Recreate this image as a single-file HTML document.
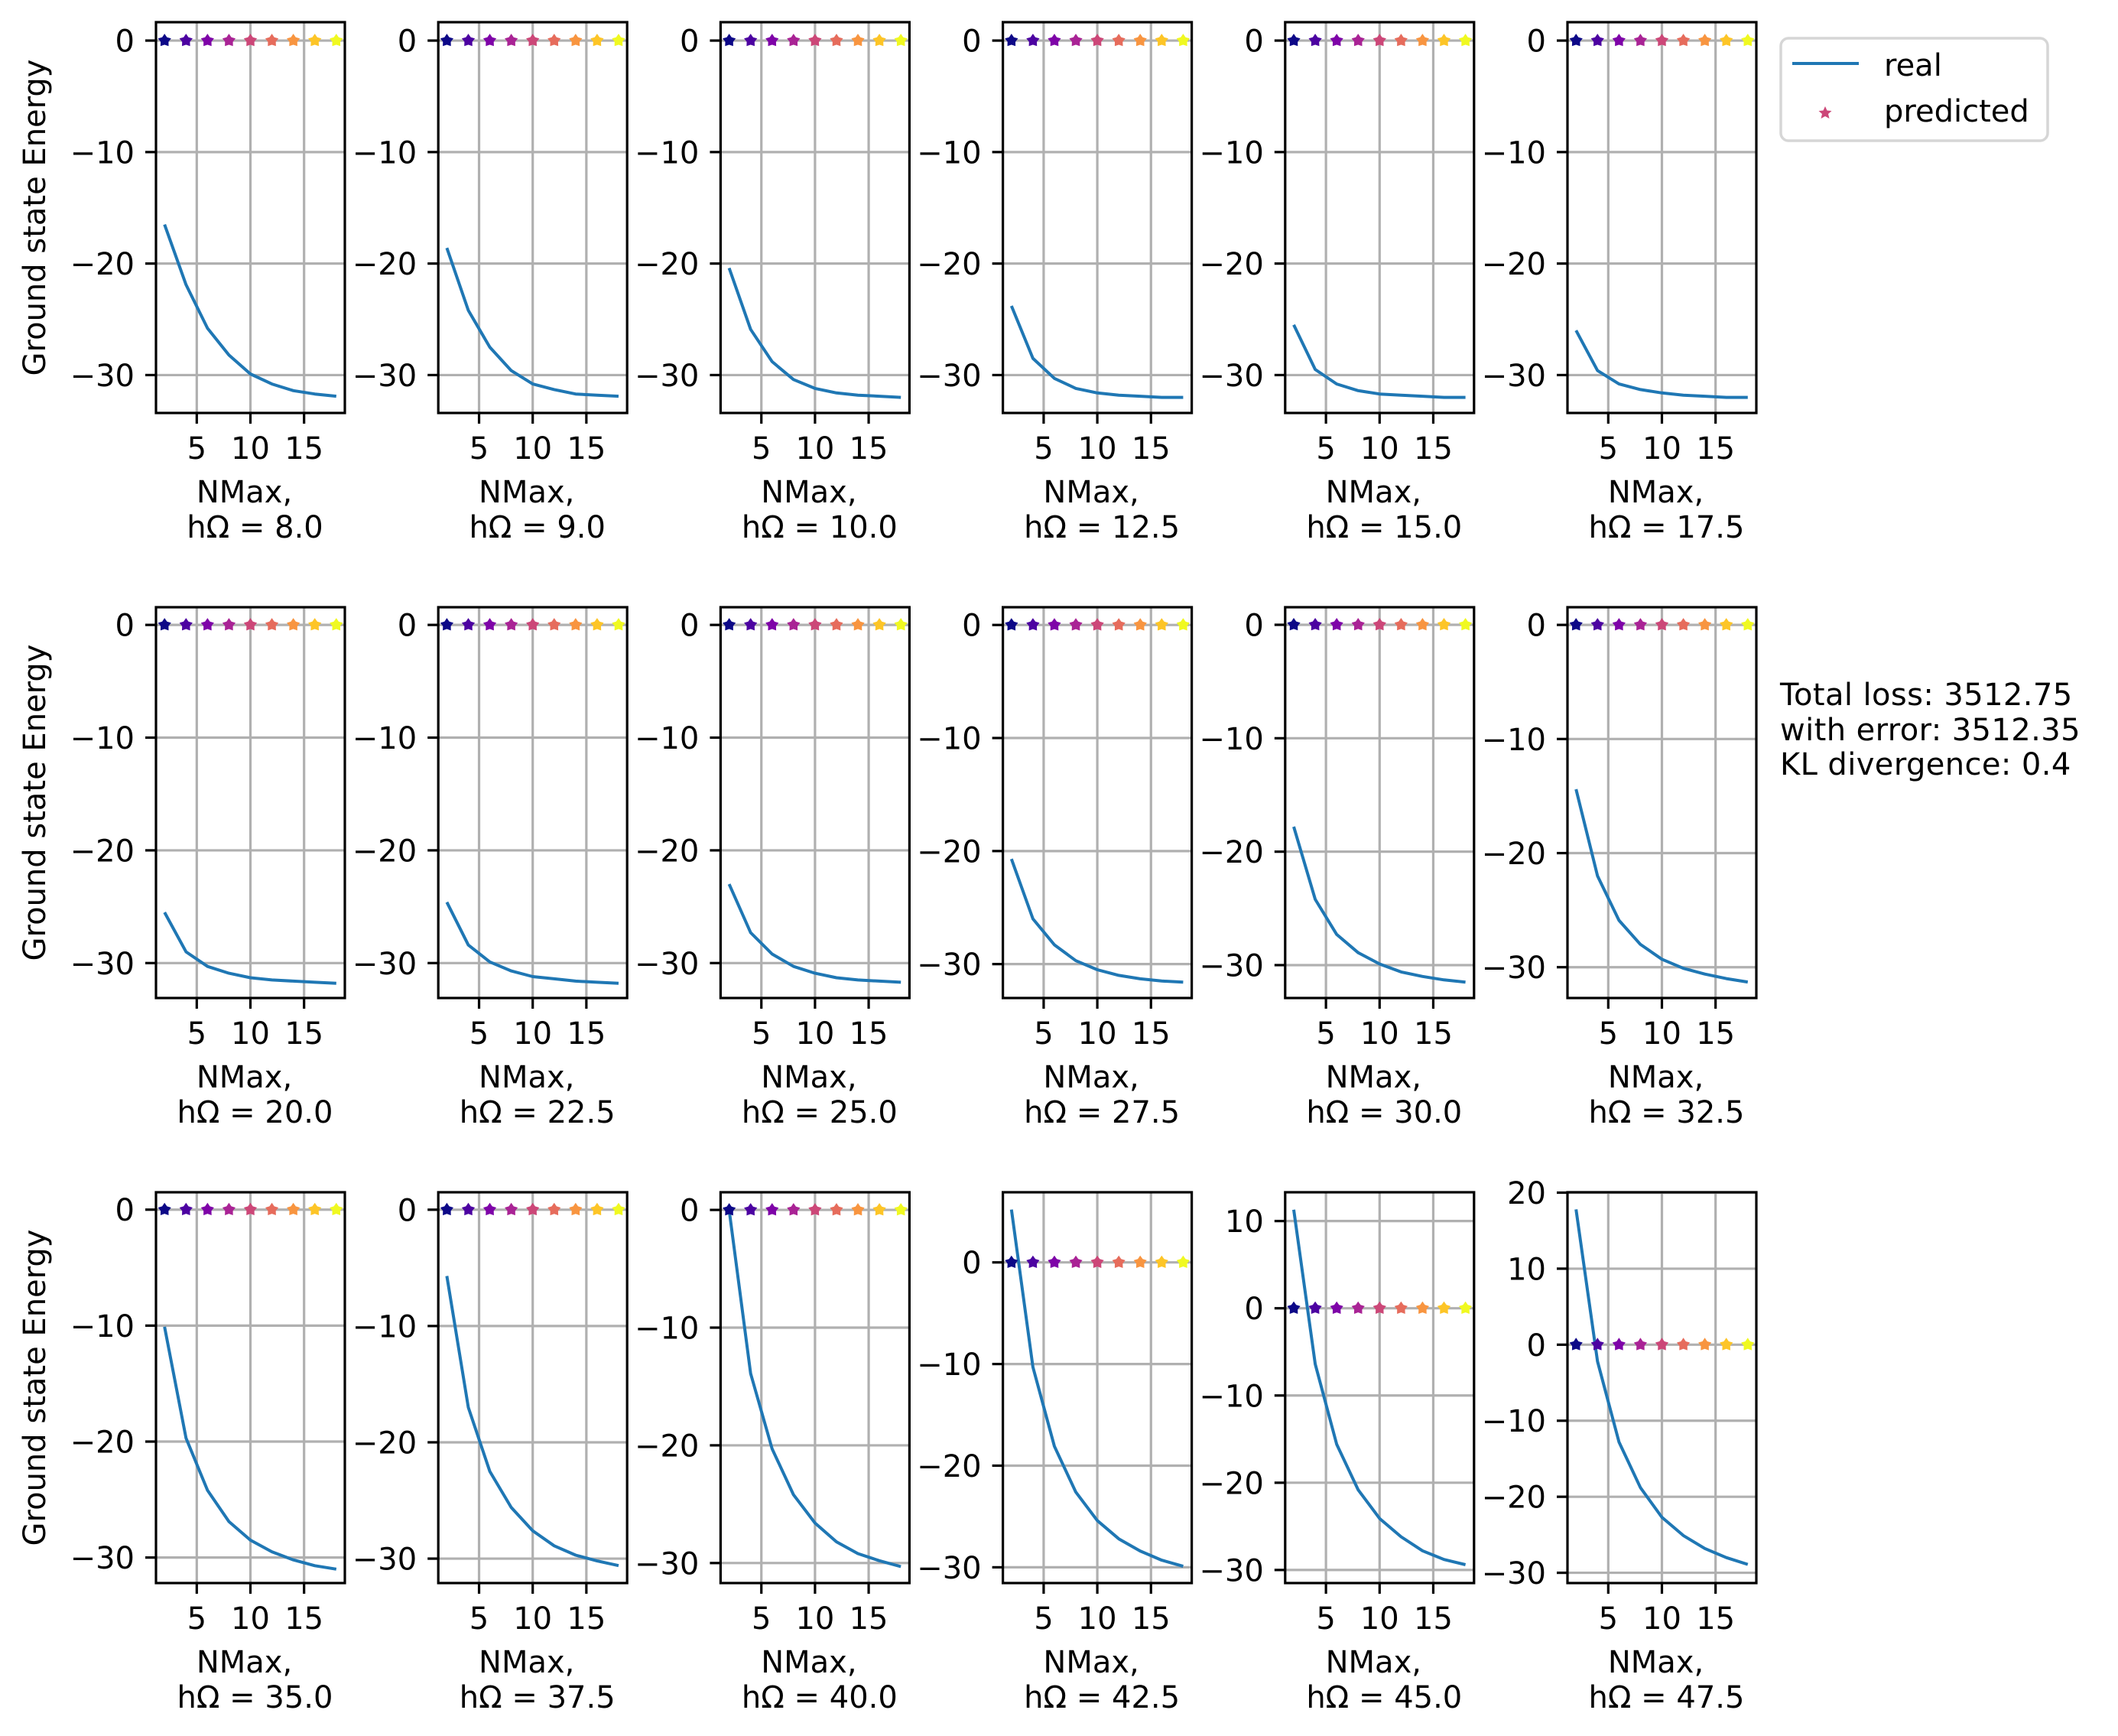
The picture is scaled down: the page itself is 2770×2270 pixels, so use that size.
<!DOCTYPE html>
<html><head><meta charset="utf-8">
<style>
html,body{margin:0;padding:0;background:#fff;}
svg{display:block;font-family:"DejaVu Sans","Liberation Sans",sans-serif;}
</style></head>
<body>
<svg id="fig" width="2770" height="2270" viewBox="0 0 2770 2270" xmlns="http://www.w3.org/2000/svg">
<rect width="2770" height="2270" fill="#fff"/>
<g>
  <rect x="2329" y="50" width="349" height="134" rx="10" fill="#fff" stroke="#d6d6d6" stroke-width="3.5"/>
  <line x1="2344" y1="83" x2="2431" y2="83" stroke="#1f77b4" stroke-width="4"/>
  <text x="2464" y="99" font-size="40">real</text>
  <polygon fill="#cc4778" points="2387,139 2389.5,144.5 2395.5,145 2391,149 2392.5,155 2387,152 2381.5,155 2383,149 2378.5,145 2384.5,144.5"/>
  <text x="2464" y="159" font-size="40">predicted</text>
</g>
<g font-size="40" letter-spacing="0.4">
  <text x="2328" y="922">Total loss: 3512.75</text>
  <text x="2328" y="968">with error: 3512.35</text>
  <text x="2328" y="1013">KL divergence: 0.4</text>
</g>
</svg>
<script>
const nmax = [2,4,6,8,10,12,14,16,18];
const hOmega = ["8.0","9.0","10.0","12.5","15.0","17.5","20.0","22.5","25.0","27.5","30.0","32.5","35.0","37.5","40.0","42.5","45.0","47.5"];
const e0 = [-16.5,-21.9,-25.8,-28.2,-29.9,-30.8,-31.4,-31.7,-31.9];
const e1 = [-18.6,-24.2,-27.5,-29.6,-30.8,-31.3,-31.7,-31.8,-31.9];
const e2 = [-20.4,-25.9,-28.8,-30.4,-31.2,-31.6,-31.8,-31.9,-32.0];
const e3 = [-23.8,-28.5,-30.3,-31.2,-31.6,-31.8,-31.9,-32.0,-32.0];
const e4 = [-25.5,-29.5,-30.8,-31.4,-31.7,-31.8,-31.9,-32.0,-32.0];
const e5 = [-26.0,-29.6,-30.8,-31.3,-31.6,-31.8,-31.9,-32.0,-32.0];
const e6 = [-25.5,-29.0,-30.3,-30.9,-31.3,-31.5,-31.6,-31.7,-31.8];
const e7 = [-24.6,-28.4,-29.9,-30.7,-31.2,-31.4,-31.6,-31.7,-31.8];
const e8 = [-23.0,-27.3,-29.2,-30.3,-30.9,-31.3,-31.5,-31.6,-31.7];
const e9 = [-20.7,-26.0,-28.3,-29.7,-30.5,-31.0,-31.3,-31.5,-31.6];
const e10 = [-17.8,-24.2,-27.3,-28.9,-29.9,-30.6,-31.0,-31.3,-31.5];
const e11 = [-14.4,-22.0,-25.9,-28.0,-29.3,-30.1,-30.6,-31.0,-31.3];
const e12 = [-10.1,-19.7,-24.2,-26.9,-28.5,-29.5,-30.2,-30.7,-31.0];
const e13 = [-5.7,-17.0,-22.5,-25.6,-27.6,-28.9,-29.7,-30.2,-30.6];
const e14 = [0.0,-13.9,-20.3,-24.2,-26.6,-28.2,-29.2,-29.8,-30.3];
const e15 = [5.2,-10.3,-18.1,-22.6,-25.4,-27.2,-28.4,-29.3,-29.9];
const e16 = [11.3,-6.4,-15.6,-20.8,-24.1,-26.2,-27.8,-28.8,-29.4];
const e17 = [17.8,-2.2,-12.8,-18.8,-22.7,-25.1,-26.8,-28.0,-28.9];
const energies = [e0,e1,e2,e3,e4,e5,e6,e7,e8,e9,e10,e11,e12,e13,e14,e15,e16,e17];
const predicted = [0,0,0,0,0,0,0,0,0];
const yMin = [-33.4,-33.4,-33.4,-33.4,-33.4,-33.4,-33.1,-33.1,-33.1,-33.0,-32.9,-32.7,-32.2,-32.1,-31.7,-31.55,-31.5,-31.35];
const yMax = [1.65,1.65,1.65,1.65,1.65,1.65,1.57,1.57,1.57,1.57,1.55,1.55,1.5,1.5,1.5,6.9,13.3,20.05];
const xTicks = [5,10,15];
const plasma = ["#0d0887","#4c02a1","#7e03a8","#a92395","#cc4778","#e66c5c","#f89540","#fdc527","#f0f921"];

const NS="http://www.w3.org/2000/svg";
const svg=document.getElementById('fig');
function mk(tag,attrs,parent){const e=document.createElementNS(NS,tag);for(const k in attrs)e.setAttribute(k,attrs[k]);(parent||svg).appendChild(e);return e;}
const PW=247, PH=511, X0=204, DX=369.2, Y0=29, DY=765;
const XMIN=1.2, XMAX=18.8;
function fmt(v){return v<0?'\u2212'+Math.abs(v):String(v);}
function star(cx,cy,r){let p=[];for(let i=0;i<10;i++){const a=-Math.PI/2+i*Math.PI/5;const rr=i%2?r*0.6:r;p.push((cx+rr*Math.cos(a)).toFixed(1)+','+(cy+rr*Math.sin(a)).toFixed(1));}return p.join(' ');}

for(let i=0;i<18;i++){
  const col=i%6,row=Math.floor(i/6);
  const L=X0+col*DX, T=Y0+row*DY, B=T+PH, R=L+PW;
  const xs=v=>L+(v-XMIN)/(XMAX-XMIN)*PW;
  const ys=v=>B-(v-yMin[i])/(yMax[i]-yMin[i])*PH;
  const g=mk('g',{});
  
  
  for(const t of xTicks){
    const ln=mk('line',{x1:xs(t),x2:xs(t),y1:T,y2:B,stroke:'#b0b0b0','stroke-width':3.2},g);
    
    
  }
  const yt=[];for(let v=Math.ceil(yMin[i]/10)*10;v<=yMax[i];v+=10)yt.push(v);
  for(const t of yt){
    const ln=mk('line',{x1:L,x2:R,y1:ys(t),y2:ys(t),stroke:'#b0b0b0','stroke-width':3.2},g);
    
    
    const tk=mk('line',{x1:L-14,x2:L,y1:ys(t),y2:ys(t),stroke:'#000','stroke-width':3.2},g);
    
    
    const tx=mk('text',{x:L-28,y:ys(t)+14.5,'font-size':40,'text-anchor':'end'},g);
    tx.textContent=fmt(t);
    
    
  }
  for(const t of xTicks){
    const tk=mk('line',{x1:xs(t),x2:xs(t),y1:B,y2:B+14,stroke:'#000','stroke-width':3.2},g);
    
    
    const tx=mk('text',{x:xs(t),y:B+60,'font-size':40,'text-anchor':'middle'},g);
    tx.textContent=String(t);
    
    
  }
  const e=energies[i];
  const pl=mk('polyline',{points:nmax.map((n,k)=>xs(n).toFixed(1)+','+ys(e[k]).toFixed(1)).join(' '),fill:'none',stroke:'#1f77b4','stroke-width':4,'stroke-linejoin':'round'},g);
  
  
  nmax.forEach((n,k)=>{
    const s=mk('polygon',{points:star(xs(n),ys(predicted[k]),9),fill:plasma[k]},g);
    
    
  });
  const fr=mk('rect',{x:L,y:T,width:PW,height:PH,fill:'none',stroke:'#000','stroke-width':3.2},g);
  
  
  const cx=(L+R)/2;
  const l1=mk('text',{x:cx-8,y:B+117,'font-size':40,'text-anchor':'middle'},g);
  l1.textContent='NMax,';
  
  
  const l2=mk('text',{x:cx+6,y:B+163,'font-size':40,'text-anchor':'middle'},g);
  l2.textContent='h\u03A9 = '+hOmega[i];
  
  
  if(col===0){
    const yl=mk('text',{x:0,y:0,'font-size':40,'text-anchor':'middle',transform:'translate(59,'+((T+B)/2)+') rotate(-90)'},g);
    yl.textContent='Ground state Energy';
    
    
  }
}
</script>
</body></html>
